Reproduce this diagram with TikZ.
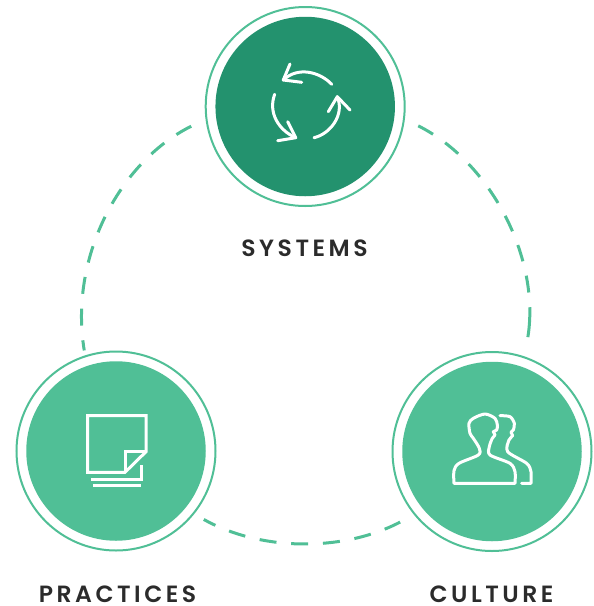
\documentclass[tikz,border=0pt]{standalone}
\usepackage{fontspec}
\setmainfont{Poppins SemiBold}[LetterSpace=15]
\usetikzlibrary{positioning}
\definecolor{ringgreen}{HTML}{50BF96}
\definecolor{darkgreen}{HTML}{23926E}
\definecolor{labeltext}{HTML}{2B2B2B}

\begin{document}
\begin{tikzpicture}[
                x=1pt, y=-1pt,
                ringnode/.style={circle, draw=ringgreen, line width=2pt, fill=white, minimum size=199pt, inner sep=0pt, outer sep=0pt},
                darkdisc/.style={circle, fill=darkgreen, minimum size=179.5pt, inner sep=0pt, outer sep=0pt},
                lightdisc/.style={circle, fill=ringgreen, minimum size=179.5pt, inner sep=0pt, outer sep=0pt},
                labelnode/.style={text=labeltext, font=\fontsize{23.5}{23.5}\selectfont, inner sep=0pt},
                dashline/.style={draw=ringgreen, line width=3pt, dash pattern=on 17pt off 14.8pt},
                iconline/.style={draw=white, line width=3pt, line cap=round, line join=round},
                ]

                \useasboundingbox (0,0) rectangle (594,606);

                \node[ringnode] (systems) at (305.2,106.5) {};
                \node[darkdisc] (systemsdisc) at (systems) {};
                \node[ringnode] (practices) at (116,451) {};
                \node[lightdisc] (practicesdisc) at (practices) {};
                \node[ringnode] (culture) at (492,451.5) {};
                \node[lightdisc] (culturedisc) at (culture) {};

                \node[labelnode] (systemslabel) at (304.5,248.5) {SYSTEMS};
                \node[labelnode] (practiceslabel) at (117.5,594) {PRACTICES};
                \node[labelnode] (culturelabel) at (491.5,594) {CULTURE};

                \draw[dashline, shorten <=17pt, shorten >=6pt] (systems.187.5) to[bend right=36.5, looseness=.944] (practices.108.6);
                \draw[dashline, dash pattern=on 17pt off 14.8pt on 17pt off 14.8pt on 17pt off 14.8pt on 17pt off 14.8pt on 17pt off 14.8pt on 17pt off 14.8pt on 17pt off 14.8pt on 30pt off 40pt, shorten <=16pt, shorten >=19pt] (systems.-7.5) to[bend left=36.5, looseness=.944] (culture.71.4);
                \draw[dashline, dash phase=4pt, shorten <=12pt, shorten >=13pt] (practices.-39) to[bend right=29, looseness=.908] (culture.219);

                \draw[iconline] (331.7,84.3) .. controls (320,72) and (298,66) .. (283.3,80);
                \draw[iconline] (290,64) -- (283.3,80) -- (301.7,82.3);
                \draw[iconline] (314,137.7) .. controls (330,134) and (345,115) .. (337.3,96.7);
                \draw[iconline] (328.3,111.7) -- (337.3,96.7) -- (350,110);
                \draw[iconline] (274.7,94.3) .. controls (268,112) and (278,130) .. (295.7,137.7);
                \draw[iconline] (287.7,121.7) -- (295.7,137.7) -- (277.7,140.7);

                \draw[iconline, line cap=butt, line join=miter] (87.7,415.7) -- (146,415.7) -- (146,451.7) -- (125,472.3) -- (87.7,472.3) -- cycle;
                \draw[iconline, line cap=butt, line join=miter] (125,472.3) -- (125,451.7) -- (146,451.7);
                \draw[iconline, line cap=butt, line join=miter] (141.7,465) -- (141.7,479) -- (90.7,479);
                \draw[iconline, line cap=butt] (93.3,485) -- (140.7,485);

                \begin{scope}[shift={(435,400)}, x=.3333pt, y=-.3333pt]
                \draw[iconline] plot[smooth, tension=.5] coordinates {(57,250) (57,212) (72,190) (130,165) (133,145) (115,115) (105,100) (102,70) (115,55) (150,42) (180,55) (187,75) (185,90) (175,95) (180,105) (172,115) (163,140) (165,165) (225,190) (240,215) (240,250)} -- cycle;
                \draw[iconline] plot[smooth, tension=.5] coordinates {(195,47) (225,50) (238,70) (235,90) (228,97) (233,107) (222,120) (218,155) (275,190) (288,215) (288,250)} -- (260,250);
                \end{scope}
            \end{tikzpicture}
\end{document}
